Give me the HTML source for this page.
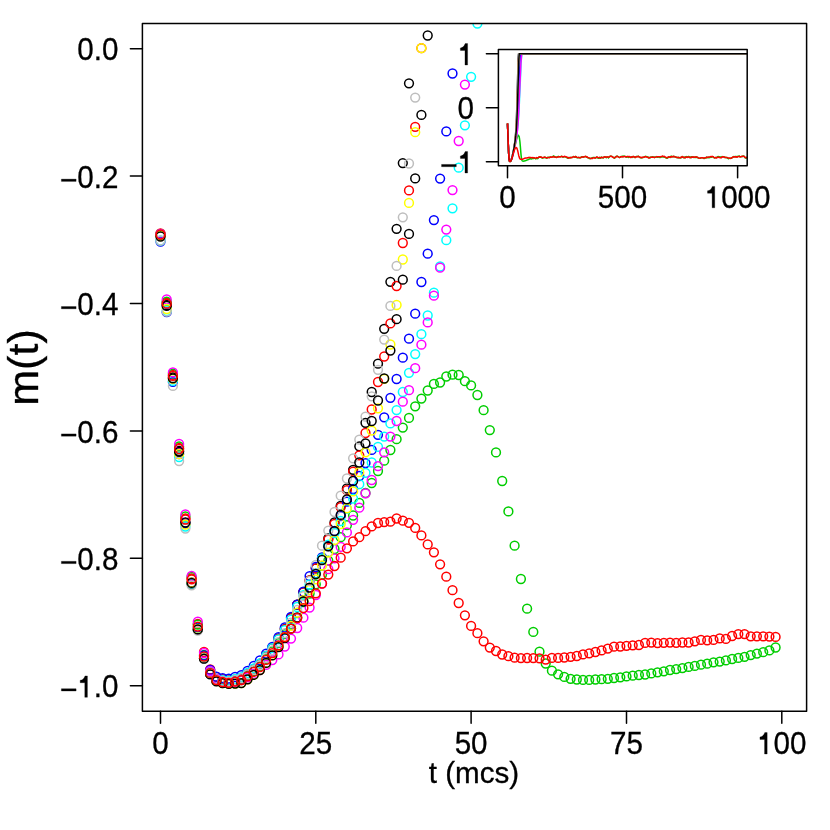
<!DOCTYPE html>
<html><head><meta charset="utf-8"><title>m(t)</title>
<style>
html,body{margin:0;padding:0;background:#fff;}
body{width:830px;height:830px;overflow:hidden;font-family:"Liberation Sans",sans-serif;}
svg{display:block;will-change:transform;}
</style></head>
<body>
<svg width="830" height="830" viewBox="0 0 830 830" font-family="'Liberation Sans', sans-serif">
<rect width="830" height="830" fill="#ffffff"/>
<defs><clipPath id="pc"><rect x="142.4" y="23.5" width="664.2" height="687.7"/></clipPath><clipPath id="ic"><rect x="498.4" y="49.4" width="248.8" height="116.3"/></clipPath></defs>
<g clip-path="url(#pc)" fill="none" stroke-width="1.5">
<g stroke="#000000">
<circle cx="160.5" cy="235.5" r="4.4"/>
<circle cx="166.7" cy="305" r="4.4"/>
<circle cx="172.9" cy="377.5" r="4.4"/>
<circle cx="179.1" cy="451" r="4.4"/>
<circle cx="185.4" cy="522.9" r="4.4"/>
<circle cx="191.6" cy="583.6" r="4.4"/>
<circle cx="197.8" cy="629.7" r="4.4"/>
<circle cx="204" cy="658.6" r="4.4"/>
<circle cx="210.2" cy="673.9" r="4.4"/>
<circle cx="216.4" cy="680.7" r="4.4"/>
<circle cx="222.6" cy="682.2" r="4.4"/>
<circle cx="228.8" cy="682.6" r="4.4"/>
<circle cx="235.1" cy="681" r="4.4"/>
<circle cx="241.3" cy="679.1" r="4.4"/>
<circle cx="247.5" cy="674.5" r="4.4"/>
<circle cx="253.7" cy="669.4" r="4.4"/>
<circle cx="259.9" cy="663.9" r="4.4"/>
<circle cx="266.1" cy="655.9" r="4.4"/>
<circle cx="272.3" cy="647.8" r="4.4"/>
<circle cx="278.5" cy="638.7" r="4.4"/>
<circle cx="284.8" cy="629.1" r="4.4"/>
<circle cx="291" cy="617.9" r="4.4"/>
<circle cx="297.2" cy="604.7" r="4.4"/>
<circle cx="303.4" cy="592.1" r="4.4"/>
<circle cx="309.6" cy="580.5" r="4.4"/>
<circle cx="315.8" cy="568.3" r="4.4"/>
<circle cx="322" cy="558.5" r="4.4"/>
<circle cx="328.3" cy="538.4" r="4.4"/>
<circle cx="334.5" cy="522.5" r="4.4"/>
<circle cx="340.7" cy="506" r="4.4"/>
<circle cx="346.9" cy="488.5" r="4.4"/>
<circle cx="353.1" cy="469.8" r="4.4"/>
<circle cx="359.3" cy="446.3" r="4.4"/>
<circle cx="365.5" cy="422.8" r="4.4"/>
<circle cx="371.7" cy="392" r="4.4"/>
<circle cx="378" cy="363.7" r="4.4"/>
<circle cx="384.2" cy="328.8" r="4.4"/>
<circle cx="390.4" cy="281.8" r="4.4"/>
<circle cx="396.6" cy="228.8" r="4.4"/>
<circle cx="402.8" cy="163.1" r="4.4"/>
<circle cx="409" cy="83.3" r="4.4"/>
</g>
<g stroke="#FF0000">
<circle cx="160.5" cy="233.5" r="4.4"/>
<circle cx="166.7" cy="302.7" r="4.4"/>
<circle cx="172.9" cy="374.9" r="4.4"/>
<circle cx="179.1" cy="448" r="4.4"/>
<circle cx="185.4" cy="518.5" r="4.4"/>
<circle cx="191.6" cy="578.4" r="4.4"/>
<circle cx="197.8" cy="623.9" r="4.4"/>
<circle cx="204" cy="652" r="4.4"/>
<circle cx="210.2" cy="669.4" r="4.4"/>
<circle cx="216.4" cy="676.9" r="4.4"/>
<circle cx="222.6" cy="679.1" r="4.4"/>
<circle cx="228.8" cy="680.2" r="4.4"/>
<circle cx="235.1" cy="679.3" r="4.4"/>
<circle cx="241.3" cy="678.1" r="4.4"/>
<circle cx="247.5" cy="673.8" r="4.4"/>
<circle cx="253.7" cy="668.9" r="4.4"/>
<circle cx="259.9" cy="663.6" r="4.4"/>
<circle cx="266.1" cy="655.9" r="4.4"/>
<circle cx="272.3" cy="647.8" r="4.4"/>
<circle cx="278.5" cy="638.7" r="4.4"/>
<circle cx="284.8" cy="629.1" r="4.4"/>
<circle cx="291" cy="617.9" r="4.4"/>
<circle cx="297.2" cy="604.7" r="4.4"/>
<circle cx="303.4" cy="592.1" r="4.4"/>
<circle cx="309.6" cy="580.5" r="4.4"/>
<circle cx="315.8" cy="568.3" r="4.4"/>
<circle cx="322" cy="558.5" r="4.4"/>
<circle cx="328.3" cy="539.6" r="4.4"/>
<circle cx="334.5" cy="524" r="4.4"/>
<circle cx="340.7" cy="507.1" r="4.4"/>
<circle cx="346.9" cy="490.2" r="4.4"/>
<circle cx="353.1" cy="471.6" r="4.4"/>
<circle cx="359.3" cy="455.3" r="4.4"/>
<circle cx="365.5" cy="433" r="4.4"/>
<circle cx="371.7" cy="409.5" r="4.4"/>
<circle cx="378" cy="382" r="4.4"/>
<circle cx="384.2" cy="356.5" r="4.4"/>
<circle cx="390.4" cy="323.4" r="4.4"/>
<circle cx="396.6" cy="286" r="4.4"/>
<circle cx="402.8" cy="243" r="4.4"/>
<circle cx="409" cy="190.4" r="4.4"/>
<circle cx="415.2" cy="126.8" r="4.4"/>
<circle cx="421.4" cy="48.2" r="4.4"/>
</g>
<g stroke="#00CD00">
<circle cx="160.5" cy="234" r="4.4"/>
<circle cx="166.7" cy="301.7" r="4.4"/>
<circle cx="172.9" cy="373.6" r="4.4"/>
<circle cx="179.1" cy="446.3" r="4.4"/>
<circle cx="185.4" cy="516.5" r="4.4"/>
<circle cx="191.6" cy="576.9" r="4.4"/>
<circle cx="197.8" cy="624.6" r="4.4"/>
<circle cx="204" cy="655" r="4.4"/>
<circle cx="210.2" cy="671.9" r="4.4"/>
<circle cx="216.4" cy="679.3" r="4.4"/>
<circle cx="222.6" cy="681.4" r="4.4"/>
<circle cx="228.8" cy="682.4" r="4.4"/>
<circle cx="235.1" cy="681.4" r="4.4"/>
<circle cx="241.3" cy="680.1" r="4.4"/>
<circle cx="247.5" cy="676" r="4.4"/>
<circle cx="253.7" cy="671.4" r="4.4"/>
<circle cx="259.9" cy="666.4" r="4.4"/>
<circle cx="266.1" cy="658.9" r="4.4"/>
<circle cx="272.3" cy="651.4" r="4.4"/>
<circle cx="278.5" cy="643.1" r="4.4"/>
<circle cx="284.8" cy="634.1" r="4.4"/>
<circle cx="291" cy="624.6" r="4.4"/>
<circle cx="297.2" cy="613" r="4.4"/>
<circle cx="303.4" cy="602.1" r="4.4"/>
<circle cx="309.6" cy="593.5" r="4.4"/>
<circle cx="315.8" cy="584.3" r="4.4"/>
<circle cx="322" cy="574.5" r="4.4"/>
<circle cx="328.3" cy="560.7" r="4.4"/>
<circle cx="334.5" cy="549" r="4.4"/>
<circle cx="340.7" cy="537.2" r="4.4"/>
<circle cx="346.9" cy="525.2" r="4.4"/>
<circle cx="353.1" cy="515.5" r="4.4"/>
<circle cx="359.3" cy="502.9" r="4.4"/>
<circle cx="365.5" cy="493" r="4.4"/>
<circle cx="371.7" cy="483" r="4.4"/>
<circle cx="378" cy="471" r="4.4"/>
<circle cx="384.2" cy="460.7" r="4.4"/>
<circle cx="390.4" cy="450" r="4.4"/>
<circle cx="396.6" cy="439.2" r="4.4"/>
<circle cx="402.8" cy="427.6" r="4.4"/>
<circle cx="409" cy="417.9" r="4.4"/>
<circle cx="415.2" cy="406.3" r="4.4"/>
<circle cx="421.4" cy="398.6" r="4.4"/>
<circle cx="427.7" cy="390.5" r="4.4"/>
<circle cx="433.9" cy="383.9" r="4.4"/>
<circle cx="440.1" cy="382.5" r="4.4"/>
<circle cx="446.3" cy="376.5" r="4.4"/>
<circle cx="452.5" cy="374.7" r="4.4"/>
<circle cx="458.7" cy="375" r="4.4"/>
<circle cx="464.9" cy="381.2" r="4.4"/>
<circle cx="471.1" cy="385.4" r="4.4"/>
<circle cx="477.4" cy="395" r="4.4"/>
<circle cx="483.6" cy="410.2" r="4.4"/>
<circle cx="489.8" cy="430.1" r="4.4"/>
<circle cx="496" cy="452.4" r="4.4"/>
<circle cx="502.2" cy="481" r="4.4"/>
<circle cx="508.4" cy="511.4" r="4.4"/>
<circle cx="514.6" cy="545.7" r="4.4"/>
<circle cx="520.9" cy="579" r="4.4"/>
<circle cx="527.1" cy="608.7" r="4.4"/>
<circle cx="533.3" cy="631.9" r="4.4"/>
<circle cx="539.5" cy="651.7" r="4.4"/>
<circle cx="545.7" cy="663.5" r="4.4"/>
<circle cx="551.9" cy="670.7" r="4.4"/>
<circle cx="558.1" cy="674.3" r="4.4"/>
<circle cx="564.3" cy="676.9" r="4.4"/>
<circle cx="570.6" cy="678.8" r="4.4"/>
<circle cx="576.8" cy="679.5" r="4.4"/>
<circle cx="583" cy="679.9" r="4.4"/>
<circle cx="589.2" cy="679.9" r="4.4"/>
<circle cx="595.4" cy="679.5" r="4.4"/>
<circle cx="601.6" cy="679.2" r="4.4"/>
<circle cx="607.8" cy="678.8" r="4.4"/>
<circle cx="614" cy="678" r="4.4"/>
<circle cx="620.3" cy="677.3" r="4.4"/>
<circle cx="626.5" cy="676.4" r="4.4"/>
<circle cx="632.7" cy="675.7" r="4.4"/>
<circle cx="638.9" cy="675" r="4.4"/>
<circle cx="645.1" cy="674.5" r="4.4"/>
<circle cx="651.3" cy="673.4" r="4.4"/>
<circle cx="657.5" cy="672.3" r="4.4"/>
<circle cx="663.8" cy="671.3" r="4.4"/>
<circle cx="670" cy="670" r="4.4"/>
<circle cx="676.2" cy="669.1" r="4.4"/>
<circle cx="682.4" cy="668.1" r="4.4"/>
<circle cx="688.6" cy="666.9" r="4.4"/>
<circle cx="694.8" cy="665.9" r="4.4"/>
<circle cx="701" cy="664.7" r="4.4"/>
<circle cx="707.2" cy="663.7" r="4.4"/>
<circle cx="713.5" cy="662.3" r="4.4"/>
<circle cx="719.7" cy="661.6" r="4.4"/>
<circle cx="725.9" cy="660.4" r="4.4"/>
<circle cx="732.1" cy="659" r="4.4"/>
<circle cx="738.3" cy="657.9" r="4.4"/>
<circle cx="744.5" cy="656.8" r="4.4"/>
<circle cx="750.7" cy="655.1" r="4.4"/>
<circle cx="756.9" cy="653.6" r="4.4"/>
<circle cx="763.2" cy="652.2" r="4.4"/>
<circle cx="769.4" cy="650.4" r="4.4"/>
<circle cx="775.6" cy="647.5" r="4.4"/>
</g>
<g stroke="#0000FF">
<circle cx="160.5" cy="241.5" r="4.4"/>
<circle cx="166.7" cy="312.2" r="4.4"/>
<circle cx="172.9" cy="381.9" r="4.4"/>
<circle cx="179.1" cy="454" r="4.4"/>
<circle cx="185.4" cy="523.5" r="4.4"/>
<circle cx="191.6" cy="582.4" r="4.4"/>
<circle cx="197.8" cy="627.6" r="4.4"/>
<circle cx="204" cy="655.5" r="4.4"/>
<circle cx="210.2" cy="669.9" r="4.4"/>
<circle cx="216.4" cy="676.7" r="4.4"/>
<circle cx="222.6" cy="678.2" r="4.4"/>
<circle cx="228.8" cy="678.6" r="4.4"/>
<circle cx="235.1" cy="677" r="4.4"/>
<circle cx="241.3" cy="675.1" r="4.4"/>
<circle cx="247.5" cy="670.8" r="4.4"/>
<circle cx="253.7" cy="665.9" r="4.4"/>
<circle cx="259.9" cy="660.4" r="4.4"/>
<circle cx="266.1" cy="653.6" r="4.4"/>
<circle cx="272.3" cy="646.9" r="4.4"/>
<circle cx="278.5" cy="637.2" r="4.4"/>
<circle cx="284.8" cy="627.5" r="4.4"/>
<circle cx="291" cy="617" r="4.4"/>
<circle cx="297.2" cy="604.7" r="4.4"/>
<circle cx="303.4" cy="591.7" r="4.4"/>
<circle cx="309.6" cy="576.1" r="4.4"/>
<circle cx="315.8" cy="567" r="4.4"/>
<circle cx="322" cy="557.5" r="4.4"/>
<circle cx="328.3" cy="546" r="4.4"/>
<circle cx="334.5" cy="531" r="4.4"/>
<circle cx="340.7" cy="516" r="4.4"/>
<circle cx="346.9" cy="501.7" r="4.4"/>
<circle cx="353.1" cy="489" r="4.4"/>
<circle cx="359.3" cy="476" r="4.4"/>
<circle cx="365.5" cy="463.1" r="4.4"/>
<circle cx="371.7" cy="449.9" r="4.4"/>
<circle cx="378" cy="434.8" r="4.4"/>
<circle cx="384.2" cy="417.3" r="4.4"/>
<circle cx="390.4" cy="397.8" r="4.4"/>
<circle cx="396.6" cy="379" r="4.4"/>
<circle cx="402.8" cy="357.7" r="4.4"/>
<circle cx="409" cy="338.7" r="4.4"/>
<circle cx="415.2" cy="313.7" r="4.4"/>
<circle cx="421.4" cy="282" r="4.4"/>
<circle cx="427.7" cy="253.7" r="4.4"/>
<circle cx="433.9" cy="220.1" r="4.4"/>
<circle cx="440.1" cy="178.6" r="4.4"/>
<circle cx="446.3" cy="131.4" r="4.4"/>
<circle cx="452.5" cy="73.5" r="4.4"/>
</g>
<g stroke="#00FFFF">
<circle cx="160.5" cy="240.5" r="4.4"/>
<circle cx="166.7" cy="311" r="4.4"/>
<circle cx="172.9" cy="380.9" r="4.4"/>
<circle cx="179.1" cy="457" r="4.4"/>
<circle cx="185.4" cy="526.5" r="4.4"/>
<circle cx="191.6" cy="583.4" r="4.4"/>
<circle cx="197.8" cy="628.9" r="4.4"/>
<circle cx="204" cy="657.2" r="4.4"/>
<circle cx="210.2" cy="671.9" r="4.4"/>
<circle cx="216.4" cy="678.7" r="4.4"/>
<circle cx="222.6" cy="680.2" r="4.4"/>
<circle cx="228.8" cy="680.6" r="4.4"/>
<circle cx="235.1" cy="679" r="4.4"/>
<circle cx="241.3" cy="677.1" r="4.4"/>
<circle cx="247.5" cy="673" r="4.4"/>
<circle cx="253.7" cy="668.4" r="4.4"/>
<circle cx="259.9" cy="663.4" r="4.4"/>
<circle cx="266.1" cy="655.9" r="4.4"/>
<circle cx="272.3" cy="648.1" r="4.4"/>
<circle cx="278.5" cy="639.4" r="4.4"/>
<circle cx="284.8" cy="630.1" r="4.4"/>
<circle cx="291" cy="619.6" r="4.4"/>
<circle cx="297.2" cy="607" r="4.4"/>
<circle cx="303.4" cy="595.1" r="4.4"/>
<circle cx="309.6" cy="584.5" r="4.4"/>
<circle cx="315.8" cy="573.3" r="4.4"/>
<circle cx="322" cy="558.5" r="4.4"/>
<circle cx="328.3" cy="544.6" r="4.4"/>
<circle cx="334.5" cy="533" r="4.4"/>
<circle cx="340.7" cy="521" r="4.4"/>
<circle cx="346.9" cy="508.9" r="4.4"/>
<circle cx="353.1" cy="498.7" r="4.4"/>
<circle cx="359.3" cy="484.2" r="4.4"/>
<circle cx="365.5" cy="472.8" r="4.4"/>
<circle cx="371.7" cy="462.5" r="4.4"/>
<circle cx="378" cy="446.9" r="4.4"/>
<circle cx="384.2" cy="436.6" r="4.4"/>
<circle cx="390.4" cy="423.4" r="4.4"/>
<circle cx="396.6" cy="410.1" r="4.4"/>
<circle cx="402.8" cy="392" r="4.4"/>
<circle cx="409" cy="372.8" r="4.4"/>
<circle cx="415.2" cy="354.1" r="4.4"/>
<circle cx="421.4" cy="334.2" r="4.4"/>
<circle cx="427.7" cy="315.5" r="4.4"/>
<circle cx="433.9" cy="292.7" r="4.4"/>
<circle cx="440.1" cy="266.5" r="4.4"/>
<circle cx="446.3" cy="240.2" r="4.4"/>
<circle cx="452.5" cy="208.3" r="4.4"/>
<circle cx="458.7" cy="167.7" r="4.4"/>
<circle cx="464.9" cy="125.3" r="4.4"/>
<circle cx="471.1" cy="76.8" r="4.4"/>
<circle cx="477.4" cy="23.6" r="4.4"/>
</g>
<g stroke="#FF00FF">
<circle cx="160.5" cy="233.9" r="4.4"/>
<circle cx="166.7" cy="299.5" r="4.4"/>
<circle cx="172.9" cy="372.3" r="4.4"/>
<circle cx="179.1" cy="444" r="4.4"/>
<circle cx="185.4" cy="514.5" r="4.4"/>
<circle cx="191.6" cy="576" r="4.4"/>
<circle cx="197.8" cy="621.6" r="4.4"/>
<circle cx="204" cy="653" r="4.4"/>
<circle cx="210.2" cy="670.9" r="4.4"/>
<circle cx="216.4" cy="678.8" r="4.4"/>
<circle cx="222.6" cy="681.3" r="4.4"/>
<circle cx="228.8" cy="682.8" r="4.4"/>
<circle cx="235.1" cy="681.6" r="4.4"/>
<circle cx="241.3" cy="680.1" r="4.4"/>
<circle cx="247.5" cy="677.3" r="4.4"/>
<circle cx="253.7" cy="673.9" r="4.4"/>
<circle cx="259.9" cy="670.1" r="4.4"/>
<circle cx="266.1" cy="664.9" r="4.4"/>
<circle cx="272.3" cy="660.1" r="4.4"/>
<circle cx="278.5" cy="654.4" r="4.4"/>
<circle cx="284.8" cy="646.6" r="4.4"/>
<circle cx="291" cy="638.6" r="4.4"/>
<circle cx="297.2" cy="628" r="4.4"/>
<circle cx="303.4" cy="617.7" r="4.4"/>
<circle cx="309.6" cy="607.6" r="4.4"/>
<circle cx="315.8" cy="595" r="4.4"/>
<circle cx="322" cy="583.7" r="4.4"/>
<circle cx="328.3" cy="569.2" r="4.4"/>
<circle cx="334.5" cy="558.3" r="4.4"/>
<circle cx="340.7" cy="546.9" r="4.4"/>
<circle cx="346.9" cy="532.4" r="4.4"/>
<circle cx="353.1" cy="519.8" r="4.4"/>
<circle cx="359.3" cy="507.7" r="4.4"/>
<circle cx="365.5" cy="493.3" r="4.4"/>
<circle cx="371.7" cy="480" r="4.4"/>
<circle cx="378" cy="466.1" r="4.4"/>
<circle cx="384.2" cy="452.3" r="4.4"/>
<circle cx="390.4" cy="436.6" r="4.4"/>
<circle cx="396.6" cy="421" r="4.4"/>
<circle cx="402.8" cy="401.7" r="4.4"/>
<circle cx="409" cy="390.2" r="4.4"/>
<circle cx="415.2" cy="368.2" r="4.4"/>
<circle cx="421.4" cy="344.7" r="4.4"/>
<circle cx="427.7" cy="322.4" r="4.4"/>
<circle cx="433.9" cy="295.7" r="4.4"/>
<circle cx="440.1" cy="267.7" r="4.4"/>
<circle cx="446.3" cy="229.6" r="4.4"/>
<circle cx="452.5" cy="190.1" r="4.4"/>
<circle cx="458.7" cy="141" r="4.4"/>
<circle cx="464.9" cy="84.6" r="4.4"/>
</g>
<g stroke="#FFFF00">
<circle cx="160.5" cy="236" r="4.4"/>
<circle cx="166.7" cy="309" r="4.4"/>
<circle cx="172.9" cy="378.9" r="4.4"/>
<circle cx="179.1" cy="454" r="4.4"/>
<circle cx="185.4" cy="524.5" r="4.4"/>
<circle cx="191.6" cy="582.4" r="4.4"/>
<circle cx="197.8" cy="628.9" r="4.4"/>
<circle cx="204" cy="658.2" r="4.4"/>
<circle cx="210.2" cy="673.9" r="4.4"/>
<circle cx="216.4" cy="681.1" r="4.4"/>
<circle cx="222.6" cy="683" r="4.4"/>
<circle cx="228.8" cy="683.8" r="4.4"/>
<circle cx="235.1" cy="683.6" r="4.4"/>
<circle cx="241.3" cy="683.1" r="4.4"/>
<circle cx="247.5" cy="679.3" r="4.4"/>
<circle cx="253.7" cy="674.9" r="4.4"/>
<circle cx="259.9" cy="670.1" r="4.4"/>
<circle cx="266.1" cy="662.9" r="4.4"/>
<circle cx="272.3" cy="655.1" r="4.4"/>
<circle cx="278.5" cy="646.4" r="4.4"/>
<circle cx="284.8" cy="637.1" r="4.4"/>
<circle cx="291" cy="625.9" r="4.4"/>
<circle cx="297.2" cy="612.7" r="4.4"/>
<circle cx="303.4" cy="600.1" r="4.4"/>
<circle cx="309.6" cy="590" r="4.4"/>
<circle cx="315.8" cy="579.3" r="4.4"/>
<circle cx="322" cy="565.5" r="4.4"/>
<circle cx="328.3" cy="552.6" r="4.4"/>
<circle cx="334.5" cy="539.9" r="4.4"/>
<circle cx="340.7" cy="524" r="4.4"/>
<circle cx="346.9" cy="508.3" r="4.4"/>
<circle cx="353.1" cy="491.4" r="4.4"/>
<circle cx="359.3" cy="472.2" r="4.4"/>
<circle cx="365.5" cy="452.3" r="4.4"/>
<circle cx="371.7" cy="430.6" r="4.4"/>
<circle cx="378" cy="408.3" r="4.4"/>
<circle cx="384.2" cy="378.8" r="4.4"/>
<circle cx="390.4" cy="344.5" r="4.4"/>
<circle cx="396.6" cy="305" r="4.4"/>
<circle cx="402.8" cy="259.5" r="4.4"/>
<circle cx="409" cy="202.9" r="4.4"/>
<circle cx="415.2" cy="132.2" r="4.4"/>
<circle cx="421.4" cy="48.2" r="4.4"/>
</g>
<g stroke="#BEBEBE">
<circle cx="160.5" cy="240.5" r="4.4"/>
<circle cx="166.7" cy="311.7" r="4.4"/>
<circle cx="172.9" cy="385.9" r="4.4"/>
<circle cx="179.1" cy="461" r="4.4"/>
<circle cx="185.4" cy="528.5" r="4.4"/>
<circle cx="191.6" cy="585.4" r="4.4"/>
<circle cx="197.8" cy="630.6" r="4.4"/>
<circle cx="204" cy="658.5" r="4.4"/>
<circle cx="210.2" cy="672.9" r="4.4"/>
<circle cx="216.4" cy="679.7" r="4.4"/>
<circle cx="222.6" cy="681.2" r="4.4"/>
<circle cx="228.8" cy="681.6" r="4.4"/>
<circle cx="235.1" cy="680" r="4.4"/>
<circle cx="241.3" cy="678.1" r="4.4"/>
<circle cx="247.5" cy="674.3" r="4.4"/>
<circle cx="253.7" cy="669.9" r="4.4"/>
<circle cx="259.9" cy="665.1" r="4.4"/>
<circle cx="266.1" cy="657.9" r="4.4"/>
<circle cx="272.3" cy="650.4" r="4.4"/>
<circle cx="278.5" cy="642.1" r="4.4"/>
<circle cx="284.8" cy="633.1" r="4.4"/>
<circle cx="291" cy="622.6" r="4.4"/>
<circle cx="297.2" cy="610" r="4.4"/>
<circle cx="303.4" cy="596.1" r="4.4"/>
<circle cx="309.6" cy="581" r="4.4"/>
<circle cx="315.8" cy="565" r="4.4"/>
<circle cx="322" cy="545.7" r="4.4"/>
<circle cx="328.3" cy="530.6" r="4.4"/>
<circle cx="334.5" cy="512" r="4.4"/>
<circle cx="340.7" cy="495.7" r="4.4"/>
<circle cx="346.9" cy="478.5" r="4.4"/>
<circle cx="353.1" cy="458.3" r="4.4"/>
<circle cx="359.3" cy="439.6" r="4.4"/>
<circle cx="365.5" cy="416.7" r="4.4"/>
<circle cx="371.7" cy="396.3" r="4.4"/>
<circle cx="378" cy="369.8" r="4.4"/>
<circle cx="384.2" cy="339.6" r="4.4"/>
<circle cx="390.4" cy="305.9" r="4.4"/>
<circle cx="396.6" cy="265.9" r="4.4"/>
<circle cx="402.8" cy="217.3" r="4.4"/>
<circle cx="409" cy="163.5" r="4.4"/>
<circle cx="415.2" cy="97.6" r="4.4"/>
</g>
<g stroke="#000000">
<circle cx="160.5" cy="236.5" r="4.4"/>
<circle cx="166.7" cy="305.9" r="4.4"/>
<circle cx="172.9" cy="378.4" r="4.4"/>
<circle cx="179.1" cy="451.8" r="4.4"/>
<circle cx="185.4" cy="522.5" r="4.4"/>
<circle cx="191.6" cy="582.9" r="4.4"/>
<circle cx="197.8" cy="629.4" r="4.4"/>
<circle cx="204" cy="658.7" r="4.4"/>
<circle cx="210.2" cy="674.4" r="4.4"/>
<circle cx="216.4" cy="681.4" r="4.4"/>
<circle cx="222.6" cy="683.2" r="4.4"/>
<circle cx="228.8" cy="683.8" r="4.4"/>
<circle cx="235.1" cy="683.6" r="4.4"/>
<circle cx="241.3" cy="683.1" r="4.4"/>
<circle cx="247.5" cy="679.3" r="4.4"/>
<circle cx="253.7" cy="674.9" r="4.4"/>
<circle cx="259.9" cy="670.1" r="4.4"/>
<circle cx="266.1" cy="662.9" r="4.4"/>
<circle cx="272.3" cy="655.4" r="4.4"/>
<circle cx="278.5" cy="647.1" r="4.4"/>
<circle cx="284.8" cy="638.1" r="4.4"/>
<circle cx="291" cy="628.6" r="4.4"/>
<circle cx="297.2" cy="617.5" r="4.4"/>
<circle cx="303.4" cy="601.5" r="4.4"/>
<circle cx="309.6" cy="587.6" r="4.4"/>
<circle cx="315.8" cy="574" r="4.4"/>
<circle cx="322" cy="560" r="4.4"/>
<circle cx="328.3" cy="546.3" r="4.4"/>
<circle cx="334.5" cy="531.2" r="4.4"/>
<circle cx="340.7" cy="514.9" r="4.4"/>
<circle cx="346.9" cy="499.3" r="4.4"/>
<circle cx="353.1" cy="481" r="4.4"/>
<circle cx="359.3" cy="462.5" r="4.4"/>
<circle cx="365.5" cy="443.3" r="4.4"/>
<circle cx="371.7" cy="421" r="4.4"/>
<circle cx="378" cy="400.5" r="4.4"/>
<circle cx="384.2" cy="378.5" r="4.4"/>
<circle cx="390.4" cy="350.5" r="4.4"/>
<circle cx="396.6" cy="319.2" r="4.4"/>
<circle cx="402.8" cy="279.7" r="4.4"/>
<circle cx="409" cy="233.9" r="4.4"/>
<circle cx="415.2" cy="178.4" r="4.4"/>
<circle cx="421.4" cy="114.9" r="4.4"/>
<circle cx="427.7" cy="35.5" r="4.4"/>
</g>
<g stroke="#FF0000">
<circle cx="160.5" cy="234.5" r="4.4"/>
<circle cx="166.7" cy="303.7" r="4.4"/>
<circle cx="172.9" cy="375.9" r="4.4"/>
<circle cx="179.1" cy="449" r="4.4"/>
<circle cx="185.4" cy="519.5" r="4.4"/>
<circle cx="191.6" cy="579.4" r="4.4"/>
<circle cx="197.8" cy="626.6" r="4.4"/>
<circle cx="204" cy="656.5" r="4.4"/>
<circle cx="210.2" cy="672.9" r="4.4"/>
<circle cx="216.4" cy="680.1" r="4.4"/>
<circle cx="222.6" cy="682" r="4.4"/>
<circle cx="228.8" cy="682.8" r="4.4"/>
<circle cx="235.1" cy="681.6" r="4.4"/>
<circle cx="241.3" cy="680.1" r="4.4"/>
<circle cx="247.5" cy="676.3" r="4.4"/>
<circle cx="253.7" cy="671.9" r="4.4"/>
<circle cx="259.9" cy="667.1" r="4.4"/>
<circle cx="266.1" cy="659.9" r="4.4"/>
<circle cx="272.3" cy="653.1" r="4.4"/>
<circle cx="278.5" cy="645.4" r="4.4"/>
<circle cx="284.8" cy="637.1" r="4.4"/>
<circle cx="291" cy="628.6" r="4.4"/>
<circle cx="297.2" cy="618" r="4.4"/>
<circle cx="303.4" cy="608.1" r="4.4"/>
<circle cx="309.6" cy="601" r="4.4"/>
<circle cx="315.8" cy="593.3" r="4.4"/>
<circle cx="322" cy="583.5" r="4.4"/>
<circle cx="328.3" cy="574.6" r="4.4"/>
<circle cx="334.5" cy="566" r="4.4"/>
<circle cx="340.7" cy="557.7" r="4.4"/>
<circle cx="346.9" cy="548.3" r="4.4"/>
<circle cx="353.1" cy="541.4" r="4.4"/>
<circle cx="359.3" cy="537.2" r="4.4"/>
<circle cx="365.5" cy="531.2" r="4.4"/>
<circle cx="371.7" cy="526.4" r="4.4"/>
<circle cx="378" cy="523" r="4.4"/>
<circle cx="384.2" cy="522.1" r="4.4"/>
<circle cx="390.4" cy="521.7" r="4.4"/>
<circle cx="396.6" cy="518.5" r="4.4"/>
<circle cx="402.8" cy="520.7" r="4.4"/>
<circle cx="409" cy="522.8" r="4.4"/>
<circle cx="415.2" cy="527.9" r="4.4"/>
<circle cx="421.4" cy="535.4" r="4.4"/>
<circle cx="427.7" cy="544.4" r="4.4"/>
<circle cx="433.9" cy="552.3" r="4.4"/>
<circle cx="440.1" cy="564.3" r="4.4"/>
<circle cx="446.3" cy="576.7" r="4.4"/>
<circle cx="452.5" cy="590.2" r="4.4"/>
<circle cx="458.7" cy="603" r="4.4"/>
<circle cx="464.9" cy="615.3" r="4.4"/>
<circle cx="471.1" cy="625.9" r="4.4"/>
<circle cx="477.4" cy="633.2" r="4.4"/>
<circle cx="483.6" cy="641.3" r="4.4"/>
<circle cx="489.8" cy="647.6" r="4.4"/>
<circle cx="496" cy="651" r="4.4"/>
<circle cx="502.2" cy="654.5" r="4.4"/>
<circle cx="508.4" cy="656.2" r="4.4"/>
<circle cx="514.6" cy="657.7" r="4.4"/>
<circle cx="520.9" cy="658.1" r="4.4"/>
<circle cx="527.1" cy="658" r="4.4"/>
<circle cx="533.3" cy="658.1" r="4.4"/>
<circle cx="539.5" cy="658.3" r="4.4"/>
<circle cx="545.7" cy="659.6" r="4.4"/>
<circle cx="551.9" cy="657.9" r="4.4"/>
<circle cx="558.1" cy="657.9" r="4.4"/>
<circle cx="564.3" cy="657.5" r="4.4"/>
<circle cx="570.6" cy="656.8" r="4.4"/>
<circle cx="576.8" cy="656" r="4.4"/>
<circle cx="583" cy="654.4" r="4.4"/>
<circle cx="589.2" cy="653.3" r="4.4"/>
<circle cx="595.4" cy="652" r="4.4"/>
<circle cx="601.6" cy="650.4" r="4.4"/>
<circle cx="607.8" cy="648.6" r="4.4"/>
<circle cx="614" cy="646.7" r="4.4"/>
<circle cx="620.3" cy="646.5" r="4.4"/>
<circle cx="626.5" cy="645.8" r="4.4"/>
<circle cx="632.7" cy="645.3" r="4.4"/>
<circle cx="638.9" cy="645" r="4.4"/>
<circle cx="645.1" cy="642.9" r="4.4"/>
<circle cx="651.3" cy="642.6" r="4.4"/>
<circle cx="657.5" cy="643.1" r="4.4"/>
<circle cx="663.8" cy="642.8" r="4.4"/>
<circle cx="670" cy="642.6" r="4.4"/>
<circle cx="676.2" cy="642.8" r="4.4"/>
<circle cx="682.4" cy="642.5" r="4.4"/>
<circle cx="688.6" cy="642.5" r="4.4"/>
<circle cx="694.8" cy="641.3" r="4.4"/>
<circle cx="701" cy="639.9" r="4.4"/>
<circle cx="707.2" cy="640.3" r="4.4"/>
<circle cx="713.5" cy="639.9" r="4.4"/>
<circle cx="719.7" cy="638.4" r="4.4"/>
<circle cx="725.9" cy="638.9" r="4.4"/>
<circle cx="732.1" cy="636" r="4.4"/>
<circle cx="738.3" cy="634.1" r="4.4"/>
<circle cx="744.5" cy="634.1" r="4.4"/>
<circle cx="750.7" cy="636.3" r="4.4"/>
<circle cx="756.9" cy="636.3" r="4.4"/>
<circle cx="763.2" cy="636.3" r="4.4"/>
<circle cx="769.4" cy="636.6" r="4.4"/>
<circle cx="775.6" cy="636.9" r="4.4"/>
</g>
</g>
<rect x="142.4" y="23.5" width="664.2" height="687.7" stroke="#000" stroke-width="1.5" fill="none" stroke-linejoin="round" stroke-linecap="round"/>
<line x1="160.5" y1="711.2" x2="160.5" y2="723.2" stroke="#000" stroke-width="1.5" fill="none" stroke-linejoin="round" stroke-linecap="round"/>
<g transform="translate(160.5,754) scale(1,1.05)" font-size="29.6" stroke="#000" stroke-width="0.3"><text x="-8.23">0</text></g>
<line x1="315.8" y1="711.2" x2="315.8" y2="723.2" stroke="#000" stroke-width="1.5" fill="none" stroke-linejoin="round" stroke-linecap="round"/>
<g transform="translate(315.8,754) scale(1,1.05)" font-size="29.6" stroke="#000" stroke-width="0.3"><text x="-16.46">25</text></g>
<line x1="471.1" y1="711.2" x2="471.1" y2="723.2" stroke="#000" stroke-width="1.5" fill="none" stroke-linejoin="round" stroke-linecap="round"/>
<g transform="translate(471.1,754) scale(1,1.05)" font-size="29.6" stroke="#000" stroke-width="0.3"><text x="-16.46">50</text></g>
<line x1="626.5" y1="711.2" x2="626.5" y2="723.2" stroke="#000" stroke-width="1.5" fill="none" stroke-linejoin="round" stroke-linecap="round"/>
<g transform="translate(626.5,754) scale(1,1.05)" font-size="29.6" stroke="#000" stroke-width="0.3"><text x="-16.46">75</text></g>
<line x1="781.8" y1="711.2" x2="781.8" y2="723.2" stroke="#000" stroke-width="1.5" fill="none" stroke-linejoin="round" stroke-linecap="round"/>
<g transform="translate(781.8,754) scale(1,1.05)" font-size="29.6" stroke="#000" stroke-width="0.3"><path transform="translate(-24.69,0) scale(0.01445,-0.01445)" stroke-width="20" d="M515 0V961H197V1121C330 1121 470 1230 530 1409H696V0Z"/><text x="-8.23">00</text></g>
<line x1="130.4" y1="48.7" x2="142.4" y2="48.7" stroke="#000" stroke-width="1.5" fill="none" stroke-linejoin="round" stroke-linecap="round"/>
<g transform="translate(118.5,60.3) scale(1,1.05)" font-size="29.6" stroke="#000" stroke-width="0.3"><text x="-41.15">0.0</text></g>
<line x1="130.4" y1="176.1" x2="142.4" y2="176.1" stroke="#000" stroke-width="1.5" fill="none" stroke-linejoin="round" stroke-linecap="round"/>
<g transform="translate(118.5,187.7) scale(1,1.05)" font-size="29.6" stroke="#000" stroke-width="0.3"><path transform="translate(-58.43,0) scale(0.01445,-0.01445)" stroke-width="20" d="M90 415H1110V565H90Z"/><text x="-41.15">0.2</text></g>
<line x1="130.4" y1="303.5" x2="142.4" y2="303.5" stroke="#000" stroke-width="1.5" fill="none" stroke-linejoin="round" stroke-linecap="round"/>
<g transform="translate(118.5,315.1) scale(1,1.05)" font-size="29.6" stroke="#000" stroke-width="0.3"><path transform="translate(-58.43,0) scale(0.01445,-0.01445)" stroke-width="20" d="M90 415H1110V565H90Z"/><text x="-41.15">0.4</text></g>
<line x1="130.4" y1="430.9" x2="142.4" y2="430.9" stroke="#000" stroke-width="1.5" fill="none" stroke-linejoin="round" stroke-linecap="round"/>
<g transform="translate(118.5,442.5) scale(1,1.05)" font-size="29.6" stroke="#000" stroke-width="0.3"><path transform="translate(-58.43,0) scale(0.01445,-0.01445)" stroke-width="20" d="M90 415H1110V565H90Z"/><text x="-41.15">0.6</text></g>
<line x1="130.4" y1="558.3" x2="142.4" y2="558.3" stroke="#000" stroke-width="1.5" fill="none" stroke-linejoin="round" stroke-linecap="round"/>
<g transform="translate(118.5,569.9) scale(1,1.05)" font-size="29.6" stroke="#000" stroke-width="0.3"><path transform="translate(-58.43,0) scale(0.01445,-0.01445)" stroke-width="20" d="M90 415H1110V565H90Z"/><text x="-41.15">0.8</text></g>
<line x1="130.4" y1="685.7" x2="142.4" y2="685.7" stroke="#000" stroke-width="1.5" fill="none" stroke-linejoin="round" stroke-linecap="round"/>
<g transform="translate(118.5,697.3) scale(1,1.05)" font-size="29.6" stroke="#000" stroke-width="0.3"><path transform="translate(-58.43,0) scale(0.01445,-0.01445)" stroke-width="20" d="M90 415H1110V565H90Z"/><path transform="translate(-41.15,0) scale(0.01445,-0.01445)" stroke-width="20" d="M515 0V961H197V1121C330 1121 470 1230 530 1409H696V0Z"/><text x="-24.69">.0</text></g>
<text x="474" y="783.4" font-size="29.6" text-anchor="middle" stroke="#000" stroke-width="0.3">t (mcs)</text>
<text transform="translate(37.6,367.5) rotate(-90)" font-size="43" text-anchor="middle" stroke="#000" stroke-width="0.35">m(t)</text>
<g clip-path="url(#ic)" fill="none" stroke-width="1.5" stroke-linejoin="round">
<path d="M507.50 123.52 L507.73 129.41 L507.96 135.55 L508.19 141.77 L508.42 147.86 L508.65 153.00 L508.88 156.91 L509.11 159.35 L509.34 160.65 L509.57 161.23 L509.80 161.35 L510.03 161.39 L510.26 161.25 L510.49 161.09 L510.72 160.71 L510.95 160.27 L511.18 159.80 L511.41 159.13 L511.64 158.44 L511.87 157.67 L512.10 156.86 L512.33 155.91 L512.56 154.79 L512.79 153.72 L513.02 152.74 L513.25 151.71 L513.48 150.88 L513.71 149.17 L513.94 147.83 L514.17 146.43 L514.40 144.95 L514.63 143.36 L514.86 141.37 L515.09 139.38 L515.32 136.78 L515.55 134.38 L515.78 131.42 L516.01 127.44 L516.24 122.95 L516.47 117.39 L516.70 110.63 L516.93 102.73 L517.16 94.67 L517.39 86.45 L517.62 78.06 L517.85 69.51 L518.08 60.78 L518.31 56.33 L518.54 53.75 L747.95 53.75" stroke="#000000"/>
<path d="M507.50 123.35 L507.73 129.21 L507.96 135.33 L508.19 141.52 L508.42 147.49 L508.65 152.56 L508.88 156.41 L509.11 158.80 L509.34 160.27 L509.57 160.90 L509.80 161.09 L510.03 161.18 L510.26 161.11 L510.49 161.01 L510.72 160.64 L510.95 160.23 L511.18 159.78 L511.41 159.13 L511.64 158.44 L511.87 157.67 L512.10 156.86 L512.33 155.91 L512.56 154.79 L512.79 153.72 L513.02 152.74 L513.25 151.71 L513.48 150.88 L513.71 149.28 L513.94 147.96 L514.17 146.52 L514.40 145.09 L514.63 143.52 L514.86 142.14 L515.09 140.25 L515.32 138.26 L515.55 135.93 L515.78 133.77 L516.01 130.97 L516.24 127.80 L516.47 124.16 L516.70 119.70 L516.93 114.31 L517.16 107.66 L517.39 100.19 L517.62 92.57 L517.85 84.80 L518.08 76.87 L518.31 68.78 L518.54 60.54 L518.77 56.33 L519.00 53.75 L747.95 53.75" stroke="#FF0000"/>
<path d="M507.50 123.39 L507.73 129.13 L507.96 135.21 L508.19 141.38 L508.42 147.32 L508.65 152.44 L508.88 156.48 L509.11 159.05 L509.34 160.48 L509.57 161.11 L509.80 161.29 L510.03 161.37 L510.26 161.29 L510.49 161.18 L510.72 160.83 L510.95 160.44 L511.18 160.01 L511.41 159.38 L511.64 158.75 L511.87 158.04 L512.10 157.28 L512.33 156.48 L512.56 155.49 L512.79 154.57 L513.02 153.84 L513.25 153.06 L513.48 152.23 L513.71 151.06 L513.94 150.07 L514.17 149.07 L514.40 148.06 L514.63 147.24 L514.86 146.17 L515.09 145.33 L515.32 144.48 L515.55 143.47 L515.78 142.59 L516.01 141.69 L516.24 140.77 L516.47 139.79 L516.70 138.97 L516.93 137.99 L517.16 137.33 L517.39 136.65 L517.62 136.09 L517.85 135.97 L518.08 135.46 L518.31 135.31 L518.54 135.34 L518.77 135.86 L519.00 136.22 L519.24 137.03 L519.47 138.32 L519.70 140.00 L519.93 141.89 L520.16 144.31 L520.39 146.89 L520.62 149.79 L520.85 152.61 L521.08 155.13 L521.31 157.09 L521.54 158.77 L521.77 159.77 L522.00 160.38 L522.23 160.68 L522.46 160.90 L522.69 161.07 L522.92 161.12 L523.15 161.16 L523.38 161.16 L523.61 161.12 L523.84 161.10 L524.07 161.07 L524.30 161.00 L524.53 160.94 L524.76 160.86 L524.99 160.80 L525.22 160.74 L525.45 160.70 L525.68 160.61 L525.91 160.52 L526.14 160.43 L526.37 160.32 L526.60 160.24 L526.83 160.16 L527.06 160.06 L527.29 159.97 L527.52 159.87 L527.75 159.79 L527.98 159.67 L528.21 159.61 L528.44 159.51 L528.67 159.39 L528.90 159.30 L529.13 159.20 L529.36 159.06 L529.59 158.93 L529.82 158.81 L530.05 158.66 L530.28 158.41 L530.74 158.69 L531.20 159.04 L531.66 158.85 L532.12 158.72 L532.58 158.46 L533.04 158.56 L533.50 158.45 L533.96 157.89 L534.42 158.19 L534.88 158.26 L535.34 158.59 L535.80 158.87 L536.26 158.64 L536.72 158.24 L537.18 158.51 L537.64 158.63 L538.10 158.17 L538.56 157.32 L539.02 157.05 L539.48 157.21 L539.94 156.84 L540.40 157.27 L540.86 157.01 L541.32 157.32 L541.78 157.87 L542.25 158.19 L542.71 157.84 L543.17 157.67 L543.63 157.83 L544.09 157.53 L544.55 157.09 L545.01 157.39 L545.47 157.45 L545.93 157.92 L546.39 158.20 L546.85 158.28 L547.31 157.60 L547.77 157.34 L548.23 157.21 L548.69 157.43 L549.15 157.71 L549.61 157.63 L550.07 157.02 L550.53 156.88 L550.99 157.09 L551.45 157.36 L551.91 157.36 L552.37 156.71 L552.83 156.38 L553.29 156.48 L553.75 155.89 L554.21 156.63 L554.67 157.05 L555.13 157.07 L555.59 157.36 L556.05 157.20 L556.51 157.30 L556.97 156.97 L557.43 156.68 L557.89 156.53 L558.35 156.35 L558.81 156.63 L559.27 156.86 L559.73 156.65 L560.19 156.85 L560.65 156.67 L561.11 156.37 L561.57 156.26 L562.03 156.70 L562.49 156.80 L562.95 157.15 L563.41 156.84 L563.87 157.02 L564.33 156.89 L564.79 156.65 L565.26 156.87 L565.72 157.09 L566.18 157.13 L566.64 157.48 L567.10 157.75 L567.56 158.04 L568.02 158.21 L568.48 158.08 L568.94 157.56 L569.40 157.54 L569.86 157.69 L570.32 157.84 L570.78 157.54 L571.24 157.52 L571.70 157.35 L572.16 157.39 L572.62 157.31 L573.08 157.00 L573.54 156.60 L574.00 156.94 L574.46 157.21 L574.92 157.20 L575.38 156.58 L575.84 156.47 L576.30 157.20 L576.76 157.57 L577.22 157.76 L577.68 157.75 L578.14 157.83 L578.60 157.42 L579.06 157.41 L579.52 157.77 L579.98 157.90 L580.44 157.56 L580.90 157.53 L581.36 156.85 L581.82 156.91 L582.28 157.12 L582.74 156.85 L583.20 156.89 L583.66 157.02 L584.12 156.70 L584.58 156.75 L585.04 156.68 L585.50 156.56 L585.96 156.66 L586.42 156.55 L586.88 157.23 L587.34 157.16 L587.80 157.72 L588.27 157.66 L588.73 158.04 L589.19 158.44 L589.65 158.60 L590.11 158.75 L590.57 158.60 L591.03 158.36 L591.49 158.30 L591.95 157.86 L592.41 157.84 L592.87 157.49 L593.33 157.52 L593.79 157.46 L594.25 157.44 L594.71 157.81 L595.17 157.69 L595.63 157.98 L596.09 157.59 L596.55 157.18 L597.01 157.41 L597.47 157.69 L597.93 158.07 L598.39 158.32 L598.85 157.92 L599.31 158.21 L599.77 157.40 L600.23 157.83 L600.69 158.19 L601.15 157.38 L601.61 157.09 L602.07 157.45 L602.53 157.64 L602.99 157.96 L603.45 157.85 L603.91 157.02 L604.37 156.92 L604.83 156.88 L605.29 156.88 L605.75 157.34 L606.21 157.64 L606.67 157.10 L607.13 156.90 L607.59 157.00 L608.05 157.48 L608.51 157.93 L608.97 157.22 L609.43 156.94 L609.89 156.51 L610.35 156.11 L610.81 156.14 L611.28 156.28 L611.74 156.39 L612.20 156.44 L612.66 156.85 L613.12 157.17 L613.58 157.69 L614.04 157.91 L614.50 158.28 L614.96 157.72 L615.42 156.93 L615.88 156.93 L616.34 156.30 L616.80 156.35 L617.26 156.29 L617.72 156.58 L618.18 156.64 L618.64 156.68 L619.10 157.10 L619.56 157.52 L620.02 157.38 L620.48 156.98 L620.94 156.44 L621.40 156.80 L621.86 156.53 L622.32 156.24 L622.78 156.56 L623.24 156.36 L623.70 156.09 L624.16 156.16 L624.62 156.25 L625.08 156.54 L625.54 156.75 L626.00 156.84 L626.46 157.24 L626.92 156.79 L627.38 156.61 L627.84 157.09 L628.30 157.48 L628.76 156.99 L629.22 156.93 L629.68 156.94 L630.14 157.05 L630.60 157.05 L631.06 156.87 L631.52 156.92 L631.98 157.53 L632.44 157.17 L632.90 156.61 L633.36 156.61 L633.82 157.01 L634.29 157.04 L634.75 157.30 L635.21 157.57 L635.67 156.91 L636.13 156.60 L636.59 156.57 L637.05 156.55 L637.51 156.50 L637.97 156.44 L638.43 156.25 L638.89 156.76 L639.35 156.89 L639.81 157.31 L640.27 157.66 L640.73 157.64 L641.19 157.97 L641.65 157.62 L642.11 157.79 L642.57 157.41 L643.03 157.55 L643.49 157.18 L643.95 157.09 L644.41 156.92 L644.87 156.83 L645.33 156.43 L645.79 156.25 L646.25 156.65 L646.71 156.74 L647.17 157.02 L647.63 156.87 L648.09 156.93 L648.55 157.69 L649.01 157.45 L649.47 157.92 L649.93 157.98 L650.39 157.31 L650.85 157.17 L651.31 157.03 L651.77 157.11 L652.23 156.83 L652.69 156.67 L653.15 157.26 L653.61 157.00 L654.07 156.95 L654.53 157.43 L654.99 157.07 L655.45 157.00 L655.91 157.15 L656.37 157.00 L656.83 156.90 L657.30 157.19 L657.76 157.23 L658.22 157.14 L658.68 157.03 L659.14 157.07 L659.60 157.44 L660.06 157.46 L660.52 157.29 L660.98 157.08 L661.44 157.04 L661.90 156.92 L662.36 156.39 L662.82 156.71 L663.28 157.02 L663.74 156.92 L664.20 156.73 L664.66 157.09 L665.12 157.33 L665.58 157.60 L666.04 158.09 L666.50 158.00 L666.96 158.25 L667.42 158.02 L667.88 157.72 L668.34 156.96 L668.80 157.41 L669.26 157.12 L669.72 157.08 L670.18 157.45 L670.64 156.81 L671.10 156.15 L671.56 156.67 L672.02 156.57 L672.48 156.62 L672.94 156.92 L673.40 156.86 L673.86 156.36 L674.32 156.86 L674.78 156.76 L675.24 156.88 L675.70 156.82 L676.16 157.17 L676.62 157.53 L677.08 157.57 L677.54 157.86 L678.00 157.58 L678.46 157.27 L678.92 157.92 L679.38 157.83 L679.84 157.66 L680.31 157.54 L680.77 158.06 L681.23 157.59 L681.69 157.24 L682.15 156.53 L682.61 157.24 L683.07 157.43 L683.53 157.56 L683.99 156.93 L684.45 157.36 L684.91 157.88 L685.37 157.50 L685.83 156.76 L686.29 156.57 L686.75 157.18 L687.21 157.19 L687.67 156.89 L688.13 156.61 L688.59 156.46 L689.05 156.74 L689.51 157.42 L689.97 157.01 L690.43 157.27 L690.89 157.67 L691.35 156.96 L691.81 156.66 L692.27 156.70 L692.73 157.32 L693.19 157.04 L693.65 157.42 L694.11 157.12 L694.57 157.40 L695.03 157.65 L695.49 157.35 L695.95 156.68 L696.41 157.26 L696.87 157.52 L697.33 157.25 L697.79 157.75 L698.25 157.74 L698.71 158.15 L699.17 158.27 L699.63 158.26 L700.09 158.12 L700.55 158.21 L701.01 157.82 L701.47 157.81 L701.93 157.72 L702.39 157.77 L702.85 157.81 L703.32 158.13 L703.78 158.45 L704.24 158.52 L704.70 158.05 L705.16 157.99 L705.62 157.91 L706.08 157.59 L706.54 157.15 L707.00 157.69 L707.46 157.32 L707.92 157.59 L708.38 157.74 L708.84 157.37 L709.30 157.68 L709.76 157.60 L710.22 157.33 L710.68 157.17 L711.14 157.21 L711.60 157.17 L712.06 156.83 L712.52 156.59 L712.98 156.77 L713.44 157.26 L713.90 157.62 L714.36 157.91 L714.82 157.83 L715.28 157.72 L715.74 157.58 L716.20 157.46 L716.66 157.60 L717.12 157.00 L717.58 156.90 L718.04 156.49 L718.50 156.81 L718.96 156.80 L719.42 156.77 L719.88 157.09 L720.34 157.21 L720.80 156.96 L721.26 157.47 L721.72 157.10 L722.18 156.53 L722.64 156.83 L723.10 156.85 L723.56 156.65 L724.02 156.70 L724.48 157.14 L724.94 157.56 L725.40 157.31 L725.86 157.48 L726.33 157.56 L726.79 157.72 L727.25 157.72 L727.71 158.32 L728.17 158.49 L728.63 158.79 L729.09 158.26 L729.55 158.31 L730.01 158.23 L730.47 158.39 L730.93 158.18 L731.39 158.14 L731.85 157.89 L732.31 157.43 L732.77 157.33 L733.23 156.86 L733.69 156.55 L734.15 156.70 L734.61 156.69 L735.07 156.61 L735.53 156.70 L735.99 156.50 L736.45 156.57 L736.91 156.88 L737.37 156.79 L737.83 156.20 L738.29 156.22 L738.75 156.29 L739.21 156.02 L739.67 156.59 L740.13 156.88 L740.59 156.77 L741.05 156.84 L741.51 156.43 L741.97 156.44 L742.43 156.41 L742.89 155.90 L743.35 155.93 L743.81 155.90 L744.27 156.50 L744.73 157.35 L745.19 157.92 L745.65 158.11 L746.11 158.18 L746.57 157.72 L747.03 157.54 L747.49 157.09 L747.95 157.22" stroke="#00CD00"/>
<path d="M507.50 124.03 L507.73 130.02 L507.96 135.92 L508.19 142.03 L508.42 147.91 L508.65 152.90 L508.88 156.73 L509.11 159.09 L509.34 160.31 L509.57 160.89 L509.80 161.01 L510.03 161.05 L510.26 160.91 L510.49 160.75 L510.72 160.39 L510.95 159.97 L511.18 159.51 L511.41 158.93 L511.64 158.36 L511.87 157.54 L512.10 156.72 L512.33 155.83 L512.56 154.79 L512.79 153.69 L513.02 152.37 L513.25 151.60 L513.48 150.79 L513.71 149.82 L513.94 148.55 L514.17 147.28 L514.40 146.07 L514.63 144.99 L514.86 143.89 L515.09 142.80 L515.32 141.68 L515.55 140.40 L515.78 138.92 L516.01 137.27 L516.24 135.67 L516.47 133.87 L516.70 132.26 L516.93 130.14 L517.16 127.46 L517.39 125.06 L517.62 122.22 L517.85 118.70 L518.08 114.70 L518.31 109.80 L518.54 104.25 L518.77 98.59 L519.00 92.82 L519.24 86.94 L519.47 80.93 L519.70 74.81 L519.93 68.56 L520.16 62.19 L520.39 58.94 L520.62 55.62 L520.85 53.75 L747.95 53.75" stroke="#0000FF"/>
<path d="M507.50 123.94 L507.73 129.92 L507.96 135.84 L508.19 142.28 L508.42 148.17 L508.65 152.99 L508.88 156.84 L509.11 159.23 L509.34 160.48 L509.57 161.06 L509.80 161.18 L510.03 161.22 L510.26 161.08 L510.49 160.92 L510.72 160.58 L510.95 160.18 L511.18 159.76 L511.41 159.13 L511.64 158.47 L511.87 157.73 L512.10 156.94 L512.33 156.05 L512.56 154.98 L512.79 153.98 L513.02 153.08 L513.25 152.13 L513.48 150.88 L513.71 149.70 L513.94 148.72 L514.17 147.70 L514.40 146.68 L514.63 145.81 L514.86 144.58 L515.09 143.62 L515.32 142.75 L515.55 141.43 L515.78 140.55 L516.01 139.43 L516.24 138.31 L516.47 136.78 L516.70 135.15 L516.93 133.57 L517.16 131.88 L517.39 130.30 L517.62 128.37 L517.85 126.15 L518.08 123.92 L518.31 121.22 L518.54 117.78 L518.77 114.19 L519.00 110.08 L519.24 105.57 L519.47 100.61 L519.70 95.55 L519.93 90.39 L520.16 85.12 L520.39 79.75 L520.62 74.27 L520.85 68.68 L521.08 62.98 L521.31 60.07 L521.54 57.10 L521.77 54.08 L522.00 53.75 L747.95 53.75" stroke="#00FFFF"/>
<path d="M507.50 123.39 L507.73 128.94 L507.96 135.11 L508.19 141.18 L508.42 147.15 L508.65 152.36 L508.88 156.22 L509.11 158.88 L509.34 160.40 L509.57 161.06 L509.80 161.28 L510.03 161.40 L510.26 161.30 L510.49 161.18 L510.72 160.94 L510.95 160.65 L511.18 160.33 L511.41 159.89 L511.64 159.48 L511.87 159.00 L512.10 158.34 L512.33 157.66 L512.56 156.76 L512.79 155.89 L513.02 155.04 L513.25 153.97 L513.48 153.01 L513.71 151.78 L513.94 150.86 L514.17 149.89 L514.40 148.67 L514.63 147.60 L514.86 146.57 L515.09 145.35 L515.32 144.23 L515.55 143.05 L515.78 141.88 L516.01 140.55 L516.24 139.23 L516.47 137.60 L516.70 136.62 L516.93 134.76 L517.16 132.77 L517.39 130.88 L517.62 128.62 L517.85 126.25 L518.08 123.02 L518.31 119.68 L518.54 115.52 L518.77 110.74 L519.00 104.00 L519.24 99.34 L519.47 94.59 L519.70 89.74 L519.93 84.80 L520.16 79.76 L520.39 74.61 L520.62 69.37 L520.85 64.02 L521.08 61.29 L521.31 58.51 L521.54 55.67 L521.77 53.75 L747.95 53.75" stroke="#FF00FF"/>
<path d="M507.50 123.56 L507.73 129.75 L507.96 135.67 L508.19 142.03 L508.42 148.00 L508.65 152.90 L508.88 156.84 L509.11 159.32 L509.34 160.65 L509.57 161.26 L509.80 161.42 L510.03 161.49 L510.26 161.47 L510.49 161.43 L510.72 161.11 L510.95 160.74 L511.18 160.33 L511.41 159.72 L511.64 159.06 L511.87 158.32 L512.10 157.53 L512.33 156.59 L512.56 155.46 L512.79 154.40 L513.02 153.54 L513.25 152.64 L513.48 151.47 L513.71 150.38 L513.94 149.30 L514.17 147.96 L514.40 146.63 L514.63 145.19 L514.86 143.57 L515.09 141.88 L515.32 140.04 L515.55 138.16 L515.78 135.66 L516.01 132.75 L516.24 129.41 L516.47 125.55 L516.70 120.76 L516.93 114.77 L517.16 107.66 L517.39 99.76 L517.62 91.71 L517.85 83.50 L518.08 75.12 L518.31 66.58 L518.54 62.22 L518.77 57.78 L519.00 53.75 L747.95 53.75" stroke="#FFFF00"/>
<path d="M507.50 123.94 L507.73 129.97 L507.96 136.26 L508.19 142.62 L508.42 148.34 L508.65 153.16 L508.88 156.98 L509.11 159.35 L509.34 160.57 L509.57 161.14 L509.80 161.27 L510.03 161.30 L510.26 161.17 L510.49 161.01 L510.72 160.68 L510.95 160.31 L511.18 159.91 L511.41 159.30 L511.64 158.66 L511.87 157.95 L512.10 157.20 L512.33 156.31 L512.56 155.24 L512.79 154.06 L513.02 152.78 L513.25 151.43 L513.48 149.79 L513.71 148.51 L513.94 146.94 L514.17 145.56 L514.40 144.10 L514.63 142.39 L514.86 140.81 L515.09 138.87 L515.32 137.14 L515.55 134.90 L515.78 132.34 L516.01 129.48 L516.24 126.10 L516.47 121.98 L516.70 117.42 L516.93 111.84 L517.16 104.00 L517.39 96.00 L517.62 87.84 L517.85 79.52 L518.08 71.03 L518.31 62.37 L518.54 57.95 L518.77 53.75 L747.95 53.75" stroke="#BEBEBE"/>
<path d="M507.50 123.61 L507.73 129.49 L507.96 135.62 L508.19 141.84 L508.42 147.83 L508.65 152.94 L508.88 156.88 L509.11 159.36 L509.34 160.69 L509.57 161.29 L509.80 161.44 L510.03 161.49 L510.26 161.47 L510.49 161.43 L510.72 161.11 L510.95 160.74 L511.18 160.33 L511.41 159.72 L511.64 159.09 L511.87 158.38 L512.10 157.62 L512.33 156.81 L512.56 155.87 L512.79 154.52 L513.02 153.34 L513.25 152.19 L513.48 151.00 L513.71 149.84 L513.94 148.56 L514.17 147.18 L514.40 145.86 L514.63 144.31 L514.86 142.75 L515.09 141.12 L515.32 139.23 L515.55 137.50 L515.78 135.63 L516.01 133.26 L516.24 130.61 L516.47 127.26 L516.70 123.39 L516.93 118.68 L517.16 113.31 L517.39 106.58 L517.62 99.34 L517.85 91.95 L518.08 84.42 L518.31 76.74 L518.54 68.90 L518.77 60.90 L519.00 56.83 L519.24 53.75 L747.95 53.75" stroke="#000000"/>
<path d="M507.50 123.44 L507.73 129.30 L507.96 135.41 L508.19 141.60 L508.42 147.57 L508.65 152.65 L508.88 156.64 L509.11 159.18 L509.34 160.57 L509.57 161.18 L509.80 161.34 L510.03 161.40 L510.26 161.30 L510.49 161.18 L510.72 160.85 L510.95 160.48 L511.18 160.07 L511.41 159.46 L511.64 158.89 L511.87 158.24 L512.10 157.53 L512.33 156.81 L512.56 155.92 L512.79 155.08 L513.02 154.48 L513.25 153.82 L513.48 152.99 L513.71 152.24 L513.94 151.51 L514.17 150.81 L514.40 150.01 L514.63 149.43 L514.86 149.07 L515.09 148.56 L515.32 148.16 L515.55 147.87 L515.78 147.79 L516.01 147.76 L516.24 147.49 L516.47 147.68 L516.70 147.85 L516.93 148.29 L517.16 148.92 L517.39 149.68 L517.62 150.35 L517.85 151.37 L518.08 152.42 L518.31 153.56 L518.54 154.65 L518.77 155.69 L519.00 156.59 L519.24 157.20 L519.47 157.89 L519.70 158.42 L519.93 158.71 L520.16 159.01 L520.39 159.15 L520.62 159.28 L520.85 159.31 L521.08 159.30 L521.31 159.31 L521.54 159.33 L521.77 159.44 L522.00 159.30 L522.23 159.30 L522.46 159.26 L522.69 159.20 L522.92 159.13 L523.15 159.00 L523.38 158.91 L523.61 158.80 L523.84 158.66 L524.07 158.51 L524.30 158.35 L524.53 158.33 L524.76 158.27 L524.99 158.23 L525.22 158.20 L525.45 158.03 L525.68 158.00 L525.91 158.04 L526.14 158.02 L526.37 158.00 L526.60 158.02 L526.83 157.99 L527.06 157.99 L527.29 157.89 L527.52 157.77 L527.75 157.80 L527.98 157.77 L528.21 157.64 L528.44 157.69 L528.67 157.44 L528.90 157.28 L529.13 157.28 L529.36 157.47 L529.59 157.47 L529.82 157.47 L530.05 157.49 L530.28 157.52 L530.74 157.60 L531.20 157.81 L531.66 157.53 L532.12 157.79 L532.58 157.58 L533.04 157.55 L533.50 157.85 L533.96 157.69 L534.42 157.98 L534.88 157.86 L535.34 158.09 L535.80 158.25 L536.26 158.09 L536.72 157.61 L537.18 157.84 L537.64 157.93 L538.10 157.66 L538.56 157.16 L539.02 157.09 L539.48 157.18 L539.94 156.76 L540.40 157.22 L540.86 156.89 L541.32 157.12 L541.78 157.43 L542.25 157.69 L542.71 157.74 L543.17 157.35 L543.63 157.58 L544.09 157.41 L544.55 157.24 L545.01 157.32 L545.47 157.24 L545.93 157.59 L546.39 157.88 L546.85 157.98 L547.31 157.65 L547.77 157.61 L548.23 157.67 L548.69 157.49 L549.15 157.45 L549.61 157.56 L550.07 157.22 L550.53 157.03 L550.99 157.26 L551.45 157.17 L551.91 157.14 L552.37 156.81 L552.83 156.67 L553.29 156.95 L553.75 156.57 L554.21 157.01 L554.67 157.10 L555.13 156.88 L555.59 157.23 L556.05 157.22 L556.51 157.59 L556.97 157.35 L557.43 157.08 L557.89 157.02 L558.35 156.72 L558.81 156.96 L559.27 156.82 L559.73 156.80 L560.19 156.79 L560.65 156.90 L561.11 156.65 L561.57 156.36 L562.03 156.53 L562.49 156.51 L562.95 157.01 L563.41 156.86 L563.87 156.78 L564.33 156.42 L564.79 156.28 L565.26 156.64 L565.72 156.83 L566.18 156.74 L566.64 157.23 L567.10 157.24 L567.56 157.50 L568.02 157.76 L568.48 158.01 L568.94 157.60 L569.40 157.82 L569.86 157.90 L570.32 157.84 L570.78 157.37 L571.24 157.68 L571.70 157.62 L572.16 157.47 L572.62 157.07 L573.08 156.80 L573.54 156.55 L574.00 156.86 L574.46 156.98 L574.92 157.13 L575.38 156.80 L575.84 156.47 L576.30 156.90 L576.76 157.22 L577.22 157.43 L577.68 157.60 L578.14 157.52 L578.60 157.36 L579.06 157.52 L579.52 157.86 L579.98 157.79 L580.44 157.76 L580.90 157.58 L581.36 157.10 L581.82 156.94 L582.28 156.96 L582.74 156.89 L583.20 156.78 L583.66 157.23 L584.12 156.87 L584.58 156.68 L585.04 156.44 L585.50 156.32 L585.96 156.57 L586.42 156.77 L586.88 157.18 L587.34 157.05 L587.80 157.44 L588.27 157.75 L588.73 157.88 L589.19 158.02 L589.65 157.97 L590.11 158.19 L590.57 158.41 L591.03 158.45 L591.49 158.53 L591.95 158.36 L592.41 158.52 L592.87 157.92 L593.33 157.66 L593.79 157.86 L594.25 157.92 L594.71 157.89 L595.17 157.86 L595.63 158.03 L596.09 157.55 L596.55 157.04 L597.01 157.08 L597.47 157.10 L597.93 157.46 L598.39 157.74 L598.85 157.75 L599.31 157.83 L599.77 157.40 L600.23 157.64 L600.69 157.94 L601.15 157.39 L601.61 157.31 L602.07 157.58 L602.53 157.45 L602.99 157.79 L603.45 157.63 L603.91 157.12 L604.37 156.80 L604.83 156.70 L605.29 156.99 L605.75 157.13 L606.21 157.41 L606.67 157.12 L607.13 157.09 L607.59 156.86 L608.05 157.06 L608.51 157.31 L608.97 157.00 L609.43 156.61 L609.89 156.40 L610.35 156.28 L610.81 156.17 L611.28 156.16 L611.74 156.58 L612.20 156.68 L612.66 156.89 L613.12 157.34 L613.58 157.70 L614.04 157.78 L614.50 157.85 L614.96 157.54 L615.42 157.06 L615.88 157.12 L616.34 156.74 L616.80 156.40 L617.26 156.15 L617.72 156.46 L618.18 156.83 L618.64 157.12 L619.10 157.39 L619.56 157.59 L620.02 157.39 L620.48 156.99 L620.94 156.72 L621.40 156.82 L621.86 156.75 L622.32 156.56 L622.78 157.03 L623.24 156.91 L623.70 156.60 L624.16 156.46 L624.62 156.37 L625.08 156.54 L625.54 156.93 L626.00 156.72 L626.46 156.95 L626.92 156.72 L627.38 156.39 L627.84 156.63 L628.30 156.81 L628.76 156.49 L629.22 156.42 L629.68 156.84 L630.14 157.22 L630.60 157.50 L631.06 157.08 L631.52 156.82 L631.98 157.18 L632.44 156.89 L632.90 156.52 L633.36 156.50 L633.82 156.76 L634.29 156.79 L634.75 157.17 L635.21 157.58 L635.67 157.08 L636.13 156.96 L636.59 156.97 L637.05 156.62 L637.51 156.78 L637.97 156.53 L638.43 156.36 L638.89 156.76 L639.35 157.05 L639.81 157.24 L640.27 157.44 L640.73 157.30 L641.19 157.47 L641.65 157.47 L642.11 157.72 L642.57 157.25 L643.03 157.35 L643.49 157.34 L643.95 157.22 L644.41 156.85 L644.87 156.97 L645.33 156.64 L645.79 156.74 L646.25 156.78 L646.71 156.83 L647.17 157.30 L647.63 157.32 L648.09 157.55 L648.55 157.89 L649.01 157.48 L649.47 157.69 L649.93 157.60 L650.39 157.31 L650.85 157.22 L651.31 157.35 L651.77 157.29 L652.23 157.21 L652.69 156.94 L653.15 157.32 L653.61 157.23 L654.07 157.42 L654.53 157.55 L654.99 157.23 L655.45 157.20 L655.91 157.13 L656.37 156.90 L656.83 156.59 L657.30 156.75 L657.76 156.72 L658.22 156.80 L658.68 156.85 L659.14 156.74 L659.60 156.86 L660.06 156.88 L660.52 156.95 L660.98 156.60 L661.44 156.53 L661.90 156.32 L662.36 156.10 L662.82 156.51 L663.28 156.58 L663.74 156.31 L664.20 156.18 L664.66 156.68 L665.12 157.09 L665.58 157.15 L666.04 157.51 L666.50 157.66 L666.96 157.92 L667.42 157.61 L667.88 157.27 L668.34 156.89 L668.80 157.24 L669.26 157.03 L669.72 156.91 L670.18 157.26 L670.64 156.90 L671.10 156.54 L671.56 156.90 L672.02 156.55 L672.48 156.75 L672.94 156.84 L673.40 156.47 L673.86 156.31 L674.32 156.77 L674.78 156.90 L675.24 156.93 L675.70 157.10 L676.16 157.37 L676.62 157.48 L677.08 157.21 L677.54 157.61 L678.00 157.46 L678.46 157.45 L678.92 157.80 L679.38 157.81 L679.84 157.56 L680.31 157.46 L680.77 157.77 L681.23 157.22 L681.69 156.95 L682.15 156.58 L682.61 157.03 L683.07 157.25 L683.53 157.62 L683.99 157.28 L684.45 157.44 L684.91 157.70 L685.37 157.65 L685.83 157.19 L686.29 156.90 L686.75 157.15 L687.21 157.45 L687.67 157.02 L688.13 156.98 L688.59 156.83 L689.05 157.24 L689.51 157.60 L689.97 157.34 L690.43 157.36 L690.89 157.68 L691.35 157.19 L691.81 157.06 L692.27 156.81 L692.73 157.23 L693.19 156.90 L693.65 157.32 L694.11 156.97 L694.57 157.04 L695.03 157.19 L695.49 157.13 L695.95 156.76 L696.41 157.03 L696.87 157.37 L697.33 157.30 L697.79 157.49 L698.25 157.75 L698.71 157.92 L699.17 158.14 L699.63 158.20 L700.09 158.14 L700.55 158.11 L701.01 157.68 L701.47 157.75 L701.93 157.63 L702.39 157.80 L702.85 157.80 L703.32 158.08 L703.78 158.10 L704.24 158.32 L704.70 157.88 L705.16 157.68 L705.62 157.84 L706.08 157.72 L706.54 157.22 L707.00 157.54 L707.46 157.18 L707.92 157.23 L708.38 157.21 L708.84 156.90 L709.30 157.04 L709.76 157.05 L710.22 156.90 L710.68 156.53 L711.14 156.78 L711.60 156.56 L712.06 156.49 L712.52 156.50 L712.98 156.71 L713.44 156.92 L713.90 157.35 L714.36 157.62 L714.82 157.89 L715.28 157.53 L715.74 157.66 L716.20 157.84 L716.66 158.05 L717.12 157.57 L717.58 157.16 L718.04 157.01 L718.50 157.22 L718.96 157.42 L719.42 157.54 L719.88 157.49 L720.34 157.71 L720.80 157.64 L721.26 157.74 L721.72 157.22 L722.18 156.79 L722.64 156.81 L723.10 157.10 L723.56 156.70 L724.02 156.95 L724.48 157.10 L724.94 157.54 L725.40 157.56 L725.86 157.49 L726.33 157.41 L726.79 157.61 L727.25 157.51 L727.71 157.86 L728.17 157.91 L728.63 158.11 L729.09 158.00 L729.55 158.22 L730.01 158.41 L730.47 158.32 L730.93 158.31 L731.39 158.00 L731.85 157.80 L732.31 157.45 L732.77 157.24 L733.23 157.03 L733.69 156.72 L734.15 156.90 L734.61 157.09 L735.07 156.68 L735.53 157.07 L735.99 156.89 L736.45 156.81 L736.91 157.26 L737.37 156.95 L737.83 156.64 L738.29 156.63 L738.75 156.52 L739.21 156.37 L739.67 156.83 L740.13 156.87 L740.59 156.92 L741.05 156.67 L741.51 156.49 L741.97 156.34 L742.43 156.42 L742.89 156.22 L743.35 156.24 L743.81 156.25 L744.27 156.66 L744.73 157.15 L745.19 157.46 L745.65 157.51 L746.11 157.78 L746.57 157.36 L747.03 157.26 L747.49 157.12 L747.95 157.01" stroke="#FF0000"/>
</g>
<rect x="498.4" y="49.4" width="248.8" height="116.3" stroke="#000" stroke-width="1.5" fill="none" stroke-linejoin="round" stroke-linecap="round"/>
<line x1="507.5" y1="165.7" x2="507.5" y2="177.7" stroke="#000" stroke-width="1.5" fill="none" stroke-linejoin="round" stroke-linecap="round"/>
<g transform="translate(507.5,207.8) scale(1,1.05)" font-size="29.6" stroke="#000" stroke-width="0.3"><text x="-8.23">0</text></g>
<line x1="622.5" y1="165.7" x2="622.5" y2="177.7" stroke="#000" stroke-width="1.5" fill="none" stroke-linejoin="round" stroke-linecap="round"/>
<g transform="translate(622.5,207.8) scale(1,1.05)" font-size="29.6" stroke="#000" stroke-width="0.3"><text x="-24.69">500</text></g>
<line x1="737.6" y1="165.7" x2="737.6" y2="177.7" stroke="#000" stroke-width="1.5" fill="none" stroke-linejoin="round" stroke-linecap="round"/>
<g transform="translate(737.6,207.8) scale(1,1.05)" font-size="29.6" stroke="#000" stroke-width="0.3"><path transform="translate(-32.92,0) scale(0.01445,-0.01445)" stroke-width="20" d="M515 0V961H197V1121C330 1121 470 1230 530 1409H696V0Z"/><text x="-16.46">000</text></g>
<line x1="486.4" y1="53.8" x2="498.4" y2="53.8" stroke="#000" stroke-width="1.5" fill="none" stroke-linejoin="round" stroke-linecap="round"/>
<g transform="translate(474,65) scale(1,1.05)" font-size="29.6" stroke="#000" stroke-width="0.3"><path transform="translate(-16.46,0) scale(0.01445,-0.01445)" stroke-width="20" d="M515 0V961H197V1121C330 1121 470 1230 530 1409H696V0Z"/></g>
<line x1="486.4" y1="107.7" x2="498.4" y2="107.7" stroke="#000" stroke-width="1.5" fill="none" stroke-linejoin="round" stroke-linecap="round"/>
<g transform="translate(474,119) scale(1,1.05)" font-size="29.6" stroke="#000" stroke-width="0.3"><text x="-16.46">0</text></g>
<line x1="486.4" y1="161.7" x2="498.4" y2="161.7" stroke="#000" stroke-width="1.5" fill="none" stroke-linejoin="round" stroke-linecap="round"/>
<g transform="translate(474,173) scale(1,1.05)" font-size="29.6" stroke="#000" stroke-width="0.3"><path transform="translate(-33.75,0) scale(0.01445,-0.01445)" stroke-width="20" d="M90 415H1110V565H90Z"/><path transform="translate(-16.46,0) scale(0.01445,-0.01445)" stroke-width="20" d="M515 0V961H197V1121C330 1121 470 1230 530 1409H696V0Z"/></g>
</svg>
</body></html>
